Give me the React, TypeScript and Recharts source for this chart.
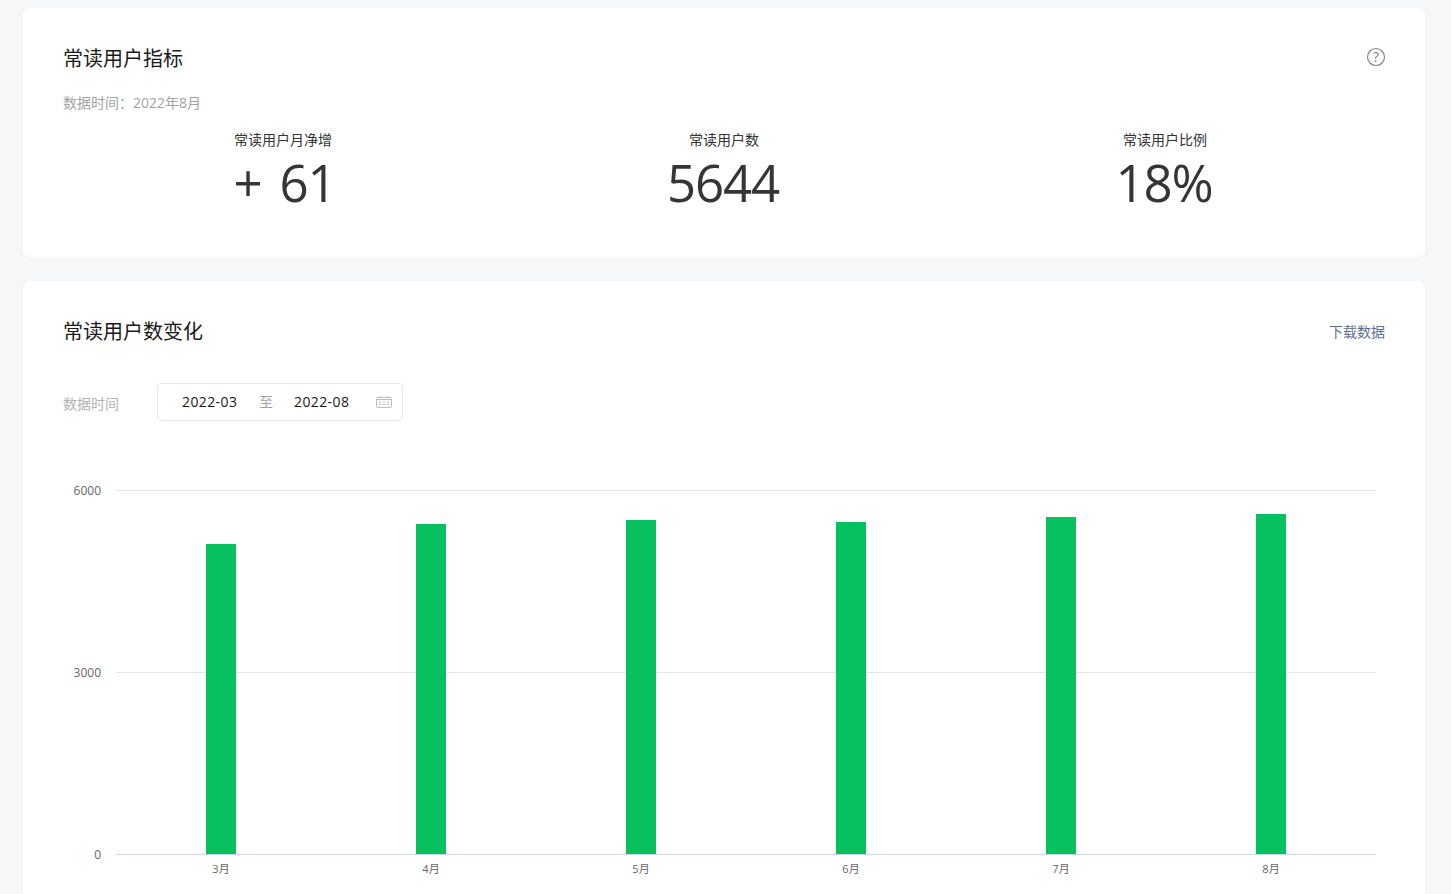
import { BarChart, Bar, XAxis, YAxis, CartesianGrid } from 'recharts';

const months = ['3月', '4月', '5月', '6月', '7月', '8月'];
const readers = [5118, 5448, 5514, 5481, 5563, 5613];
const yTicks = [0, 3000, 6000];

const metricLabels = ['常读用户月净增', '常读用户数', '常读用户比例'];
const metricValues = ['+ 61', '5644', '18%'];
const metricCenters = [283, 724, 1165];
const valueCenters = [284.5, 723, 1164];

const chartData = months.map((month, i) => ({ month, readers: readers[i] }));

const FONT = '"Open Sans", "Noto Sans CJK SC", sans-serif';

function abs(left: number, top: number, extra: React.CSSProperties = {}): React.CSSProperties {
  return { position: 'absolute', left, top, whiteSpace: 'nowrap', ...extra };
}

export default function App() {
  return (
    <div style={{ position: 'fixed', left: 0, top: 0, width: 1451, height: 894, overflow: 'hidden', background: '#f6f7f9', fontFamily: FONT }}>
      <div style={{ position: 'absolute', left: 23, top: 8, width: 1402, height: 249, background: '#fff', borderRadius: 8 }} />
      <div style={{ position: 'absolute', left: 23, top: 281, width: 1402, height: 640, background: '#fff', borderRadius: 8 }} />

      <div style={abs(63, 45, { fontSize: 20, lineHeight: '28px', color: '#1a1a1a' })}>常读用户指标</div>
      <div style={abs(63, 93, { fontSize: 14, lineHeight: '20px', color: '#a3a3a3' })}>数据时间：2022年8月</div>
      <svg style={{ position: 'absolute', left: 1366, top: 47 }} width={20} height={20} viewBox="0 0 20 20">
        <circle cx={10} cy={10} r={8.5} fill="none" stroke="#808080" strokeWidth={1.2} />
        <text x={10} y={15} textAnchor="middle" fontSize={14} fill="#808080" fontFamily={FONT}>?</text>
      </svg>

      {metricLabels.map((label, i) => (
        <div key={label} style={{ position: 'absolute', left: metricCenters[i] - 150, width: 300, top: 130, textAlign: 'center', fontSize: 14, lineHeight: '20px', color: '#333' }}>
          {label}
        </div>
      ))}
      {metricValues.map((value, i) => (
        <div key={value} style={{ position: 'absolute', left: valueCenters[i] - 150, width: 300, top: 148, textAlign: 'center', fontSize: 51, lineHeight: '68px', letterSpacing: -1.2, wordSpacing: 6, color: '#353535' }}>
          {value}
        </div>
      ))}

      <div style={abs(63, 318, { fontSize: 20, lineHeight: '28px', color: '#1a1a1a' })}>常读用户数变化</div>
      <div style={abs(1329, 322, { fontSize: 14, lineHeight: '20px', color: '#5f6f90' })}>下载数据</div>

      <div style={abs(63, 394, { fontSize: 14, lineHeight: '20px', color: '#b2b2b2' })}>数据时间</div>
      <div style={{ position: 'absolute', left: 157, top: 383, width: 244, height: 36, border: '1px solid #e7e7e7', borderRadius: 4 }} />
      <div style={abs(182, 392, { fontSize: 14, lineHeight: '20px', letterSpacing: 0.4, color: '#1a1a1a' })}>2022-03</div>
      <div style={abs(259, 392, { fontSize: 14, lineHeight: '20px', color: '#a3a3a3' })}>至</div>
      <div style={abs(294, 392, { fontSize: 14, lineHeight: '20px', letterSpacing: 0.4, color: '#1a1a1a' })}>2022-08</div>
      <svg style={{ position: 'absolute', left: 376, top: 396 }} width={16} height={12} viewBox="0 0 16 12">
        <rect x={0.5} y={1.5} width={15} height={10} rx={1} fill="none" stroke="#bdbdbd" />
        <path d="M0.5 3.5H15.5M4 0V2M12 0V2" stroke="#bdbdbd" />
        <path d="M3 6H5M7 6H9M11 6H13M3 8.5H5M7 8.5H9M11 8.5H13" stroke="#bdbdbd" />
      </svg>

      <div style={{ position: 'absolute', left: 0, top: 470 }}>
        <BarChart width={1451} height={424} data={chartData} margin={{ top: 20.5, right: 75, bottom: 9.5, left: 0 }}>
          <CartesianGrid vertical={false} stroke="#e6e6e6" />
          <XAxis
            dataKey="month"
            height={30}
            tickLine={false}
            axisLine={{ stroke: '#c9d6ea' }}
            tick={{ fontSize: 11, fill: '#666', fontFamily: FONT }}
            tickMargin={5}
            interval={0}
          />
          <YAxis
            width={116}
            domain={[0, 6000]}
            ticks={yTicks}
            axisLine={false}
            tickLine={false}
            tick={{ fontSize: 12, fill: '#666', fontFamily: FONT }}
            tickMargin={9}
          />
          <Bar dataKey="readers" fill="#07c160" barSize={30} isAnimationActive={false} />
        </BarChart>
      </div>
    </div>
  );
}
